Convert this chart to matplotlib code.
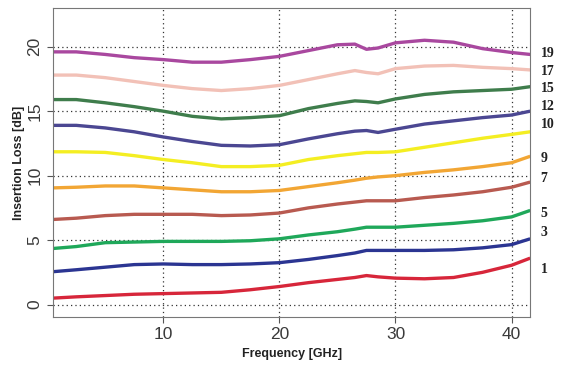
import numpy as np
import matplotlib.pyplot as plt

# Frequency points (GHz)
freq = [0.5, 2.5, 5, 7.5, 10, 12.5, 15, 17.5, 20, 22.5,
        25, 26.5, 27.5, 28.5, 30, 32.5, 35, 37.5, 40, 41.6]

# Insertion loss (dB), one list per curve, bottom to top
loss_1 = [0.5, 0.6, 0.7, 0.8, 0.85, 0.9, 0.95, 1.15, 1.4, 1.7,
          1.95, 2.1, 2.25, 2.15, 2.05, 2.0, 2.1, 2.5, 3.05, 3.6]
loss_3 = [2.55, 2.7, 2.9, 3.1, 3.15, 3.1, 3.1, 3.15, 3.25, 3.5,
          3.8, 4.0, 4.2, 4.2, 4.2, 4.2, 4.25, 4.4, 4.65, 5.1]
loss_5 = [4.35, 4.5, 4.8, 4.85, 4.9, 4.9, 4.9, 4.95, 5.1, 5.4,
          5.65, 5.85, 6.0, 6.0, 6.0, 6.15, 6.3, 6.5, 6.8, 7.3]
loss_7 = [6.6, 6.7, 6.9, 7.0, 7.0, 7.0, 6.9, 6.95, 7.1, 7.5,
          7.8, 7.95, 8.05, 8.05, 8.05, 8.3, 8.5, 8.75, 9.1, 9.5]
loss_9 = [9.05, 9.1, 9.2, 9.2, 9.05, 8.9, 8.75, 8.75, 8.85, 9.15,
          9.45, 9.65, 9.8, 9.9, 10.0, 10.25, 10.45, 10.7, 11.0, 11.5]
loss_10 = [11.85, 11.85, 11.8, 11.55, 11.25, 11.0, 10.7, 10.7, 10.8, 11.25,
           11.55, 11.7, 11.8, 11.8, 11.85, 12.2, 12.55, 12.9, 13.2, 13.4]
loss_12 = [13.9, 13.9, 13.7, 13.4, 13.0, 12.65, 12.35, 12.3, 12.4, 12.85,
           13.25, 13.45, 13.5, 13.35, 13.6, 14.0, 14.25, 14.5, 14.7, 15.0]
loss_15 = [15.9, 15.9, 15.65, 15.35, 15.0, 14.6, 14.4, 14.5, 14.65, 15.2,
           15.6, 15.8, 15.75, 15.65, 15.95, 16.3, 16.5, 16.6, 16.7, 16.9]
loss_17 = [17.8, 17.8, 17.6, 17.3, 17.0, 16.75, 16.6, 16.75, 17.0, 17.45,
           17.9, 18.15, 18.0, 17.9, 18.3, 18.5, 18.55, 18.4, 18.3, 18.2]
loss_19 = [19.6, 19.6, 19.4, 19.15, 19.0, 18.8, 18.8, 19.0, 19.25, 19.7,
           20.15, 20.2, 19.8, 19.9, 20.3, 20.5, 20.35, 19.85, 19.55, 19.4]

curves = [loss_1, loss_3, loss_5, loss_7, loss_9, loss_10, loss_12, loss_15, loss_17, loss_19]
colors = ['#d7263a', '#2b3592', '#1fa85a', '#b85a50', '#f2a634', '#f4ee22',
          '#4b4792', '#3f7d4c', '#f2c1b7', '#a9489f']

# right-hand labels and their heights (dB)
side_labels = ['19', '17', '15', '12', '10', '9', '7', '5', '3', '1']
side_y = [19.45, 18.1, 16.75, 15.4, 13.95, 11.3, 9.75, 7.1, 5.6, 2.75]

fig = plt.figure(figsize=(5.64, 3.65), dpi=100)
ax = fig.add_axes([0.094, 0.132, 0.846, 0.846])

for vals, c in zip(curves, colors):
    ax.plot(freq, vals, color=c, lw=2.4, solid_capstyle='butt', solid_joinstyle='round')

ax.set_xlim(0.5, 41.6)
ax.set_ylim(-0.95, 23.0)
ax.set_xticks([10, 20, 30, 40])
ax.set_yticks([0, 5, 10, 15, 20])
ax.grid(True, color='#333333', linestyle=(0, (1, 2.5)), linewidth=0.9)
ax.tick_params(axis='both', labelsize=12.5, length=4, color='#555555', labelcolor='#3a3a3a')
for lab in ax.get_xticklabels() + ax.get_yticklabels():
    lab.set_family('Liberation Sans')
for lab in ax.get_yticklabels():
    lab.set_rotation(90)
    lab.set_va('center')
for sp in ax.spines.values():
    sp.set_color('#777777')

ax.set_xlabel('Frequency [GHz]', fontsize=9, fontweight='bold', family='Liberation Sans',
              color='#222222', labelpad=4)
ax.set_ylabel('Insertion Loss [dB]', fontsize=9, fontweight='bold', family='Liberation Sans',
              color='#222222', labelpad=2)

for lab, yv in zip(side_labels, side_y):
    ax.text(1.022, yv, lab, transform=ax.get_yaxis_transform(), fontsize=10,
            family='Liberation Serif', fontweight='bold', color='#222222', va='center', ha='left')

plt.savefig('out.png', dpi=100)
